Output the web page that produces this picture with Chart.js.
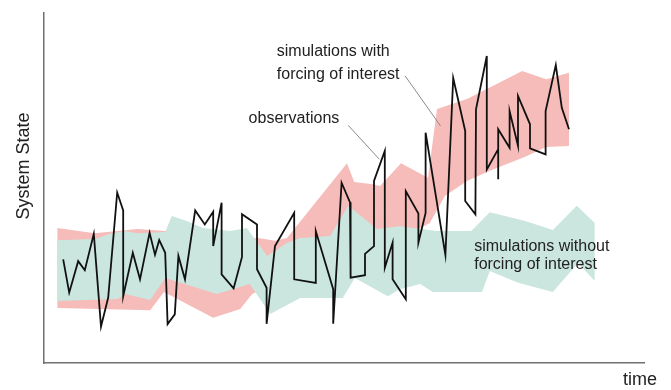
<!DOCTYPE html>
<html>
<head>
<meta charset="utf-8">
<script src="https://cdn.jsdelivr.net/npm/chart.js@4/dist/chart.umd.min.js"></script>
<style>
  html, body { margin: 0; padding: 0; background: #ffffff; }
  canvas { display: block; }
</style>
</head>
<body>
<canvas id="c" width="671" height="390"></canvas>
<script>
// ---- data (time 0..100, system state 0..100) ----
const obsTime  = [3.2,4.2,5.7,6.8,8.3,9.5,10.7,12.2,13.2,13.2,14.8,16.0,17.6,18.5,19.2,20.2,20.6,21.8,22.4,23.5,25.2,26.8,28.2,28.2,29.6,29.6,31.6,33.0,33.0,35.5,35.5,37.1,37.1,38.5,41.7,41.7,45.3,45.3,48.2,48.2,49.6,51.0,51.1,53.5,53.5,55.0,55.0,56.8,56.8,58.1,58.1,60.3,60.3,62.4,62.4,63.6,63.6,66.9,68.2,70.2,70.2,71.9,72.0,73.8,73.8,75.7,75.7,75.7,77.6,77.6,79.0,79.0,81.0,81.0,83.6,83.6,85.3,86.3,87.5];
const obsState = [29.6,20.1,29.1,26.5,36.9,10.4,18.7,48.7,43.6,19.1,31.5,23.9,37.2,30.9,35.1,31.5,11.1,13.9,30.6,23.9,43.6,39.6,43.2,33.4,45.8,25.3,21.3,30.3,42.5,39.6,26.8,21.5,11.2,33.4,42.9,23.9,22.9,37.7,21.1,11.2,51.5,45.9,24.4,25.1,31.2,33.4,52.0,60.6,27.2,34.4,23.9,18.2,49.1,42.7,34.4,42.9,65.8,30.9,81.4,66.3,46.3,42.5,72.5,87.7,55.3,61.1,52.5,66.8,61.5,72.0,62.0,76.3,68.2,61.3,59.6,72.0,85.1,72.9,66.8];

const forcedUpperTime  = [2.2,8.5,15.5,20.2,27.7,33.5,35.7,38.5,40.5,50.5,51.7,54.8,56.0,59.5,64.0,65.5,70.5,74.7,79.7,83.7,87.5];
const forcedUpperState = [38.6,37.1,38.3,37.7,36.0,35.4,35.7,34.9,35.7,57.1,51.7,51.1,50.6,57.1,52.9,72.6,75.4,79.1,83.4,81.1,82.9];
const forcedLowerTime  = [2.2,17.7,20.0,28.2,32.7,34.7,42.7,51.0,59.3,64.3,66.8,70.5,74.3,80.2,83.7,87.5];
const forcedLowerState = [15.7,15.1,20.3,12.9,15.4,19.7,26.3,32.0,35.4,40.0,47.7,52.0,54.9,58.9,61.7,62.0];

const unforcedUpperTime  = [2.2,8.5,11.0,13.5,15.5,20.2,21.3,23.8,26.5,31.0,33.8,37.2,40.5,42.7,47.7,50.7,55.5,59.3,65.5,71.2,74.3,80.2,84.8,88.8,91.8];
const unforcedUpperState = [35.1,35.4,36.9,37.7,37.1,37.4,42.0,40.6,38.6,37.7,38.6,30.6,34.3,35.7,36.3,44.9,38.3,39.1,37.7,37.7,43.1,40.6,38.0,44.9,40.0];
const unforcedLowerTime  = [2.2,12.3,13.5,17.7,20.2,28.8,34.3,37.7,42.7,49.8,51.8,57.3,59.3,62.7,64.8,73.0,74.3,79.0,84.8,89.0,91.8];
const unforcedLowerState = [17.7,18.3,19.7,18.0,24.3,19.7,22.6,14.0,18.6,18.6,24.3,19.1,21.1,22.6,20.3,20.3,26.3,22.9,20.3,28.6,23.4];

// leader lines (from label to curve)
const obsLeaderTime     = [50.7, 55.9];
const obsLeaderState    = [67.9, 58.2];
const forcedLeaderTime  = [60.2, 66.1];
const forcedLeaderState = [82.0, 67.7];

// annotation labels
const labelTexts = ["simulations with", "forcing of interest", "observations", "simulations without", "forcing of interest"];
const labelTime  = [38.8, 38.8, 34.1, 71.7, 71.7];
const labelState = [88.9, 82.5, 69.9, 33.4, 28.0];

const xTitle = "time";
const yTitle = "System State";

const zip = (xs, ys) => xs.map((x, i) => ({ x: x, y: ys[i] }));

const PINK = "#F6BCB9";
const GREEN = "#CAE6DF";
const FONT = "'Liberation Sans', Arial, Helvetica, sans-serif";

const textPlugin = {
  id: "textLabels",
  afterDatasetsDraw(chart) {
    const ctx = chart.ctx;
    const xs = chart.scales.x, ys = chart.scales.y;
    ctx.save();
    ctx.fillStyle = "#222222";
    ctx.font = "16px " + FONT;
    ctx.textAlign = "left";
    ctx.textBaseline = "middle";
    labelTexts.forEach((t, i) => {
      ctx.fillText(t, xs.getPixelForValue(labelTime[i]), ys.getPixelForValue(labelState[i]));
    });
    // axis titles
    const area = chart.chartArea;
    ctx.font = "18px " + FONT;
    ctx.textAlign = "right";
    ctx.textBaseline = "middle";
    ctx.fillText(xTitle, area.right + 13, area.bottom + 17);
    ctx.translate(area.left - 20, area.top + 153);
    ctx.rotate(-Math.PI / 2);
    ctx.textAlign = "center";
    ctx.fillText(yTitle, 0, 0);
    ctx.restore();
  }
};

new Chart(document.getElementById("c"), {
  type: "line",
  data: {
    datasets: [
      { data: zip(obsTime, obsState), borderColor: "#111111", borderWidth: 1.8, pointRadius: 0, fill: false, tension: 0, borderJoinStyle: "miter" },
      { data: zip(obsLeaderTime, obsLeaderState), borderColor: "#8a8a8a", borderWidth: 1, pointRadius: 0, fill: false },
      { data: zip(forcedLeaderTime, forcedLeaderState), borderColor: "#8a8a8a", borderWidth: 1, pointRadius: 0, fill: false },
      { data: zip(unforcedLowerTime, unforcedLowerState), borderWidth: 0, borderColor: GREEN, pointRadius: 0, fill: false },
      { data: zip(unforcedUpperTime, unforcedUpperState), borderWidth: 0, borderColor: GREEN, backgroundColor: GREEN, pointRadius: 0, fill: "-1" },
      { data: zip(forcedLowerTime, forcedLowerState), borderWidth: 0, borderColor: PINK, pointRadius: 0, fill: false },
      { data: zip(forcedUpperTime, forcedUpperState), borderWidth: 0, borderColor: PINK, backgroundColor: PINK, pointRadius: 0, fill: "-1" }
    ]
  },
  options: {
    responsive: false,
    animation: false,
    layout: { padding: { left: 44, top: 13, right: 27, bottom: 27 } },
    plugins: { legend: { display: false }, tooltip: { enabled: false } },
    scales: {
      x: { type: "linear", min: 0, max: 100, ticks: { display: false }, grid: { display: false, drawTicks: false }, border: { display: true, color: "#707070", width: 1.5 } },
      y: { type: "linear", min: 0, max: 100, ticks: { display: false }, grid: { display: false, drawTicks: false }, border: { display: true, color: "#707070", width: 1.5 } }
    }
  },
  plugins: [textPlugin]
});
</script>
</body>
</html>
